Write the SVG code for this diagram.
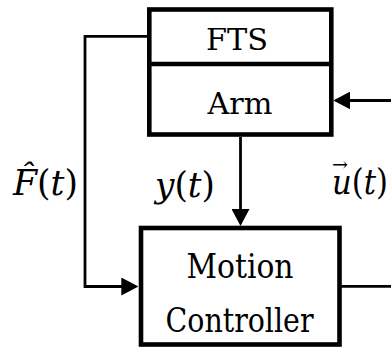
<svg xmlns="http://www.w3.org/2000/svg" width="391" height="347" viewBox="0 0 391 347">
<style>
.box{fill:#fff;stroke:#000;stroke-width:4.6}
.div{stroke:#000;stroke-width:4.6}
.lbl{font-family:"DejaVu Serif",serif;fill:#000;text-anchor:middle}
.math{font-family:"DejaVu Serif",serif;font-size:36px;fill:#000}
.it{font-style:italic}
.wire{fill:none;stroke:#000;stroke-width:2.8;stroke-linecap:butt;stroke-linejoin:miter}
</style>
<defs>
<marker id="arr" viewBox="0 0 17 18" refX="14" refY="9" markerWidth="17" markerHeight="18" markerUnits="userSpaceOnUse" orient="auto">
<path d="M0,0 L17,9 L0,18 Z" fill="#000"/>
</marker>
</defs>
<g id="connectors">
<path class="wire" d="M149,36.3 H85 V286.5 H135.3" marker-end="url(#arr)"/>
<path class="wire" d="M240.5,137 V223" marker-end="url(#arr)"/>
<path class="wire" d="M341,286.3 H391"/>
<path class="wire" d="M391,100.5 H336.3" marker-end="url(#arr)"/>
</g>
<g id="fts-arm">
<rect class="box" x="149.3" y="9.5" width="182" height="125"/>
<line class="div" x1="149.3" y1="64" x2="331.3" y2="64"/>
<text class="lbl" font-size="30" x="237" y="49.5" textLength="62" lengthAdjust="spacingAndGlyphs">FTS</text>
<text class="lbl" font-size="30" x="240" y="114" textLength="65" lengthAdjust="spacingAndGlyphs">Arm</text>
</g>
<g id="motion-controller">
<rect class="box" x="141" y="228" width="198.5" height="116.5"/>
<text class="lbl" font-size="33" x="240" y="278.3" textLength="107" lengthAdjust="spacingAndGlyphs">Motion</text>
<text class="lbl" font-size="33" x="239.5" y="331.7" textLength="148" lengthAdjust="spacingAndGlyphs">Controller</text>
</g>
<g id="labels">
<text class="math" x="13" y="195" textLength="65" lengthAdjust="spacingAndGlyphs"><tspan class="it">F̂</tspan>(<tspan class="it">t</tspan>)</text>
<text class="math" x="155" y="196.5" textLength="60" lengthAdjust="spacingAndGlyphs"><tspan class="it">y</tspan>(<tspan class="it">t</tspan>)</text>
<text class="math" x="332" y="193.5" textLength="56" lengthAdjust="spacingAndGlyphs"><tspan class="it">u</tspan>(<tspan class="it">t</tspan>)</text>
<text font-family="DejaVu Serif, serif" font-size="19" x="332" y="170.5" textLength="16" lengthAdjust="spacingAndGlyphs">→</text>
</g>
</svg>
